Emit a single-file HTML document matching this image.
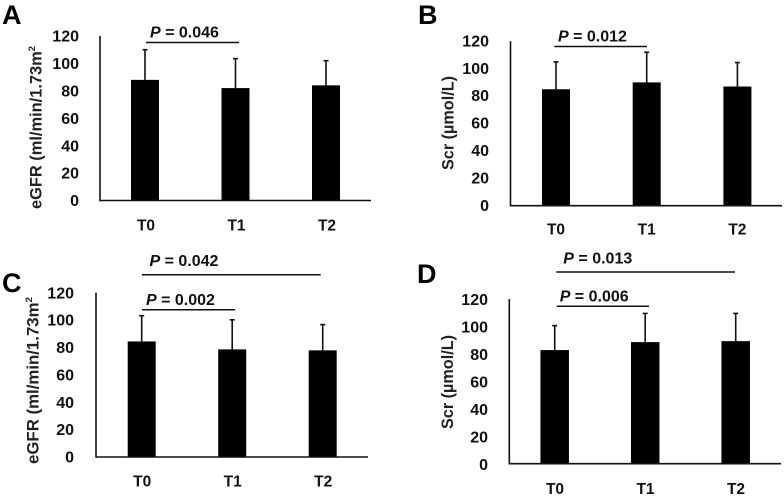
<!DOCTYPE html>
<html>
<head>
<meta charset="utf-8">
<style>
html,body{margin:0;padding:0;background:#fff;}
svg{display:block;filter:blur(0.35px);}
text{font-family:"Liberation Sans",sans-serif;font-weight:bold;fill:#111;}
</style>
</head>
<body>
<svg id="figure" width="784" height="499" viewBox="0 0 784 499" xmlns="http://www.w3.org/2000/svg"></svg>
<script>
const categories = ["T0", "T1", "T2"];
const yTickLabels = [0, 20, 40, 60, 80, 100, 120];
const yMax = 120;

const panelAMeans = [88, 82, 84];
const panelAUpper = [110, 103.5, 102];
const panelBMeans = [85, 90, 87];
const panelBUpper = [105, 112, 104.5];
const panelCMeans = [84.4, 78.6, 77.9];
const panelCUpper = [103.2, 100.2, 96.7];
const panelDMeans = [82.8, 88.6, 89.3];
const panelDUpper = [100.6, 109.5, 109.5];

const panelATitle = "eGFR (ml/min/1.73m";
const panelBTitle = "Scr (µmol/L)";

const panels = [
  {id:"a", letter:"A", lx:2, ly:24, means:panelAMeans, upper:panelAUpper,
   ax:100, ar:371, top:36, base:200.5, c0:145, step:90.5, bw:28, tickR:79, tickOff:0, catY:230.5, catOff:1,
   title:panelATitle, sup:true, tx:36, ty0:209, tlen:163,
   notes:[{text:"0.046", x:150, y:37.5, l0:146, l1:239, ly:42.5}]},
  {id:"b", letter:"B", lx:418, ly:24, means:panelBMeans, upper:panelBUpper,
   ax:510.5, ar:782, top:41.3, base:205.7, c0:556, step:90.7, bw:28, tickR:489, tickOff:-0.5, catY:234.5, catOff:0,
   title:panelBTitle, sup:false, tx:448, ty0:170, tlen:94,
   notes:[{text:"0.012", x:558, y:41.5, l0:554.3, l1:647, ly:46.5}]},
  {id:"c", letter:"C", lx:2, ly:292, means:panelCMeans, upper:panelCUpper,
   ax:96, ar:368, top:292.7, base:457, c0:141.7, step:90.5, bw:28, tickR:74, tickOff:0, catY:486.5, catOff:0.5,
   title:panelATitle, sup:true, tx:33, ty0:464, tlen:167,
   notes:[{text:"0.042", x:149.5, y:266, l0:142, l1:320.7, ly:274.7},
          {text:"0.002", x:146, y:304.8, l0:142, l1:235, ly:309.7}]},
  {id:"d", letter:"D", lx:417, ly:283, means:panelDMeans, upper:panelDUpper,
   ax:509.3, ar:781, top:299, base:463.7, c0:554.7, step:90.5, bw:28.5, tickR:488, tickOff:0.5, catY:494, catOff:0.3,
   title:panelBTitle, sup:false, tx:447.7, ty0:429, tlen:94,
   notes:[{text:"0.013", x:563.3, y:263.5, l0:556.3, l1:735, ly:272},
          {text:"0.006", x:559.7, y:301.5, l0:556.7, l1:649, ly:306.3}]}
];

const svg = document.getElementById("figure");
const NS = "http://www.w3.org/2000/svg";

function make(tag, parent, attrs, text) {
  const el = document.createElementNS(NS, tag);
  for (const k in attrs) el.setAttribute(k, attrs[k]);
  if (text !== undefined) el.textContent = text;
  parent.appendChild(el);
  return el;
}

panels.forEach(function (p) {
  const yScale = function (v) { return p.base - (v / yMax) * (p.base - p.top); };
  const xScale = function (i) { return p.c0 + i * p.step; };

  const g = make("g", svg, {});
  
  

  const letter = make("text", g, {x:p.lx, y:p.ly, "font-size":27, style:"fill:#000"}, p.letter);
  
  

  const title = make("text", g, {
    transform:"translate(" + p.tx + "," + p.ty0 + ") rotate(-90)",
    x:0, y:5.5, "font-size":16.5, textLength:p.tlen, lengthAdjust:"spacingAndGlyphs", style:"fill:#222"
  }, p.title);
  
  
  if (p.sup) {
    const s = make("tspan", title, {"font-size":9.5, dy:-6.5}, "2");
    
    
  }

  yTickLabels.forEach(function (v) {
    const t = make("text", g, {x:p.tickR, y:yScale(v) + 5.6 + p.tickOff, "text-anchor":"end", "font-size":16}, String(v));
    
    
  });

  categories.forEach(function (c, i) {
    const cx = xScale(i);
    const barTop = yScale(p.means[i]);
    const errTop = yScale(p.upper[i]);

    const stem = make("line", g, {x1:cx, x2:cx, y1:errTop, y2:barTop, stroke:"#111", "stroke-width":1.6});
    
    

    const cap = make("line", g, {x1:cx - 2.5, x2:cx + 2.5, y1:errTop, y2:errTop, stroke:"#111", "stroke-width":1.6});
    
    

    const bar = make("rect", g, {x:cx - p.bw / 2, y:barTop, width:p.bw, height:p.base - barTop, fill:"#000"});
    
    

    const lab = make("text", g, {x:cx + p.catOff, y:p.catY, "text-anchor":"middle", "font-size":15.5}, c);
    
    
  });

  const yAxis = make("line", g, {x1:p.ax, x2:p.ax, y1:p.top, y2:p.base + 0.8, stroke:"#111", "stroke-width":1.6});
  
  

  const xAxis = make("line", g, {x1:p.ax, x2:p.ar, y1:p.base, y2:p.base, stroke:"#111", "stroke-width":1.6});
  
  

  p.notes.forEach(function (n, k) {
    const t = make("text", g, {x:n.x, y:n.y, "font-size":16});
    
    
    const it = make("tspan", t, {"font-style":"italic"}, "P");
    
    
    t.appendChild(document.createTextNode(" = " + n.text));

    const l = make("line", g, {x1:n.l0, x2:n.l1, y1:n.ly, y2:n.ly, stroke:"#111", "stroke-width":1.5});
    
    
  });
});
</script>
</body>
</html>
